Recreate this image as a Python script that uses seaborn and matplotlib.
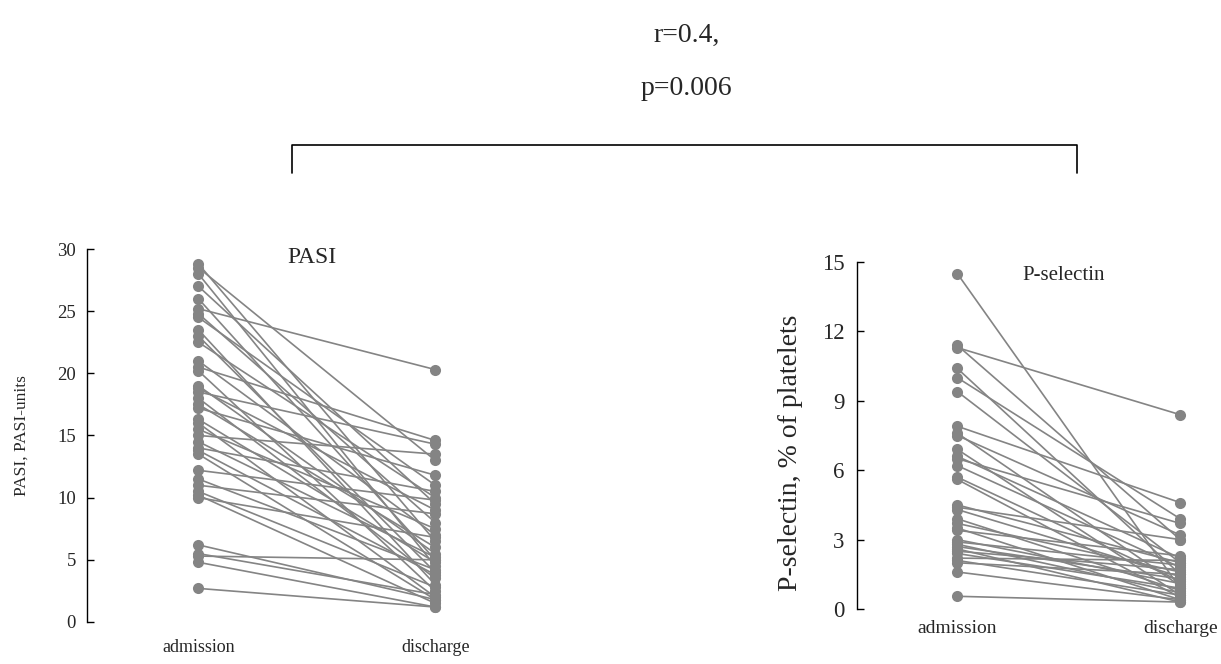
import numpy as np
import pandas as pd
import matplotlib
matplotlib.use('Agg')
import matplotlib.pyplot as plt
from matplotlib.transforms import Bbox, TransformedBbox
import seaborn as sns

# paired values (admission, discharge)
pasi_adm = [28.8, 28.5, 28.0, 27.0, 26.0, 25.2, 24.8, 24.5, 23.5, 23.0, 22.5, 21.0, 20.5,
            20.2, 19.0, 18.8, 18.5, 18.0, 17.5, 17.2, 16.3, 16.0, 15.5, 15.0, 14.5, 14.0,
            13.8, 13.5, 12.2, 11.5, 11.0, 10.5, 10.2, 10.0, 6.2, 5.5, 5.3, 4.8, 2.7]
pasi_dis = [6.5, 13.0, 4.5, 9.5, 5.0, 20.3, 8.0, 11.0, 3.0, 4.0, 10.0, 7.0, 14.6,
            2.5, 5.5, 9.0, 14.3, 3.5, 6.0, 11.8, 4.8, 2.0, 7.5, 13.5, 5.2, 10.5,
            3.8, 1.8, 9.8, 4.2, 8.7, 2.8, 1.5, 6.8, 1.8, 2.2, 5.0, 1.2, 1.2]

psel_adm = [14.5, 11.4, 11.3, 10.4, 10.0, 9.4, 7.9, 7.6, 7.5, 6.9, 6.6, 6.5, 6.2, 5.7,
            5.6, 4.5, 4.4, 4.3, 3.9, 3.7, 3.5, 3.4, 3.0, 2.9, 2.8, 2.7, 2.6, 2.5, 2.4,
            2.2, 2.1, 2.0, 1.6, 0.55]
psel_dis = [0.9, 3.0, 8.4, 1.5, 3.9, 2.0, 4.6, 1.0, 3.2, 0.6, 2.2, 3.7, 1.8, 1.2,
            0.5, 2.0, 3.0, 1.4, 0.8, 1.6, 0.4, 2.3, 1.1, 1.9, 0.7, 1.3, 0.3, 1.7, 0.9,
            2.1, 0.6, 1.5, 0.4, 0.3]

time_labels = ['admission', 'discharge']


def to_long(adm, dis):
    n = len(adm)
    return pd.DataFrame({
        'id': list(range(n)) * 2,
        't': [0] * n + [1] * n,
        'value': list(adm) + list(dis),
    })


df_pasi = to_long(pasi_adm, pasi_dis)
df_psel = to_long(psel_adm, psel_dis)

sns.set_style('white')
plt.rcParams['font.family'] = ['Liberation Serif', 'DejaVu Serif']

fig = plt.figure(figsize=(12.21, 6.64), dpi=100)
ax1 = fig.add_axes([0.0713, 0.0633, 0.388, 0.5617])
ax2 = fig.add_axes([0.7019, 0.0828, 0.293, 0.5226])

grey = '#848484'
for ax, df in [(ax1, df_pasi), (ax2, df_psel)]:
    sns.lineplot(data=df, x='t', y='value', units='id', estimator=None,
                 color=grey, marker='o', markersize=8, markeredgewidth=0,
                 linewidth=1.2, ax=ax, legend=False)
    for s in ['top', 'right', 'bottom']:
        ax.spines[s].set_visible(False)
    ax.spines['left'].set_color('black')
    ax.spines['left'].set_linewidth(1.0)
    ax.set_xticks([0, 1])
    ax.set_xlabel('')
    ax.tick_params(axis='y', left=True, direction='in', length=5, width=1, color='black')

# left panel
ax1.set_xlim(-0.47, 1.53)
ax1.set_ylim(0, 30)
ax1.set_yticks(range(0, 31, 5))
ax1.set_xticklabels(time_labels, fontsize=13)
ax1.tick_params(axis='y', labelsize=13.5, pad=8)
ax1.tick_params(axis='x', length=0, pad=12)
ax1.set_ylabel('PASI, PASI-units', fontsize=12.5, labelpad=20)
ax1.text(0.48, 29.3, 'PASI', fontsize=17, ha='center', va='center')

# right panel
ax2.set_xlim(-0.45, 1.155)
ax2.set_ylim(0, 15)
ax2.set_yticks(range(0, 16, 3))
ax2.set_xticklabels(time_labels, fontsize=14)
ax2.tick_params(axis='y', labelsize=16.5, pad=9)
ax2.tick_params(axis='x', length=0, pad=8)
ax2.set_ylabel('P-selectin, % of platelets', fontsize=20)
ax2.yaxis.set_label_coords(-0.15, 0.45)
# the label is cut off at the top of the panel, as in the source figure
ylab = ax2.yaxis.label
ylab.set_clip_on(True)
ylab.set_clip_box(TransformedBbox(Bbox([[0, 0], [1, 1 - 262 / 664]]), fig.transFigure))
ax2.text(0.475, 14.4, 'P-selectin', fontsize=15, ha='center', va='center')

# correlation bracket
fig.text(0.562, 0.947, 'r=0.4,', fontsize=20, ha='center', va='center')
fig.text(0.562, 0.867, 'p=0.006', fontsize=20, ha='center', va='center')
bx = [292 / 1221, 292 / 1221, 1077 / 1221, 1077 / 1221]
by = [1 - 173 / 664, 1 - 145 / 664, 1 - 145 / 664, 1 - 173 / 664]
fig.add_artist(plt.Line2D(bx, by, color='black', linewidth=1.2, transform=fig.transFigure))

fig.savefig('out.png', dpi=100)
